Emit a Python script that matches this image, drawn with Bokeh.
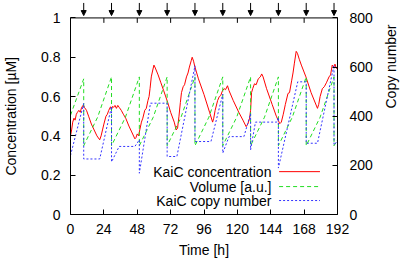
import math
from bokeh.plotting import figure
from bokeh.models import (LinearAxis, Range1d, FixedTicker, NumeralTickFormatter,
                          Arrow, NormalHead, Label, Span)
from bokeh.embed import file_html
from bokeh.resources import INLINE

# ---------------- data ----------------
time_conc = [0, 0.8, 1.6, 2.5, 3.3, 4.2, 5.0, 6.0, 7.0, 8.0, 9.3, 10.0, 11.5, 13, 15, 17, 19, 21,
             22, 23, 24, 25.5, 26.5, 27.5, 28.8, 29.5, 30.3, 31, 32, 33, 34, 35, 36.5, 38, 39.7,
             42, 44, 46.3, 47, 48, 49, 49.8, 51, 52, 53.4, 54.5, 55.7, 56.5, 57.2, 58.1, 59, 60,
             61, 63, 65, 67, 69.9, 72, 74.6, 76, 77, 78, 79, 79.8, 81, 82, 83.4, 84.5, 85.5, 86.9,
             87.5, 88.5, 89.3, 92, 96, 100, 102.2, 103, 104, 105.8, 107, 108, 109.3, 110.5, 111.5,
             112.9, 114, 117, 121, 124, 126.3, 127.5, 128.8, 129.5, 130.2, 131, 132.3, 133.5, 135,
             136.5, 137.5, 138.5, 141, 145, 148, 150.5, 151.6, 153, 154.5, 156.4, 157.5, 159, 160,
             161, 162.3, 163.2, 164.5, 166, 169.3, 173, 177.6, 178.5, 179.5, 181.1, 182.5, 184,
             185.9, 187, 188.2, 189.2, 190.2, 191, 192]
conc = [0.40, 0.43, 0.47, 0.49, 0.48, 0.51, 0.52, 0.53, 0.52, 0.545, 0.557, 0.545, 0.53, 0.50,
        0.46, 0.43, 0.40, 0.38, 0.40, 0.43, 0.46, 0.50, 0.51, 0.53, 0.548, 0.535, 0.55, 0.545,
        0.555, 0.54, 0.555, 0.545, 0.53, 0.51, 0.49, 0.45, 0.42, 0.385, 0.39, 0.41, 0.40, 0.43,
        0.47, 0.49, 0.53, 0.54, 0.58, 0.60, 0.64, 0.70, 0.73, 0.76, 0.745, 0.71, 0.67, 0.63,
        0.57, 0.52, 0.47, 0.43, 0.44, 0.50, 0.57, 0.62, 0.65, 0.66, 0.70, 0.72, 0.75, 0.785,
        0.80, 0.78, 0.755, 0.69, 0.61, 0.52, 0.47, 0.49, 0.53, 0.58, 0.60, 0.605, 0.63, 0.64,
        0.635, 0.655, 0.63, 0.58, 0.52, 0.48, 0.447, 0.46, 0.49, 0.53, 0.62, 0.64, 0.665, 0.66,
        0.69, 0.70, 0.715, 0.70, 0.64, 0.56, 0.50, 0.462, 0.47, 0.51, 0.56, 0.616, 0.62, 0.68,
        0.72, 0.77, 0.83, 0.82, 0.79, 0.76, 0.70, 0.62, 0.54, 0.56, 0.60, 0.64, 0.65, 0.67,
        0.70, 0.71, 0.76, 0.75, 0.765, 0.745, 0.74]

time_vol = [0, 9.5, 9.5, 19.5, 29.5, 29.5, 39.5, 49.5, 49.5, 59.5, 69.5, 69.5, 79.5, 89.5, 89.5,
            99.5, 109.5, 109.5, 119.5, 129.5, 129.5, 139.5, 149.5, 149.5, 159.5, 169.5, 169.5,
            179.5, 189.5, 189.5, 192]
volume = [0.505, 0.69, 0.35, 0.495, 0.70, 0.35, 0.495, 0.70, 0.35, 0.495, 0.70, 0.35, 0.495,
          0.70, 0.35, 0.495, 0.70, 0.35, 0.495, 0.70, 0.35, 0.495, 0.70, 0.35, 0.495, 0.70,
          0.35, 0.495, 0.70, 0.35, 0.38]

time_copy = [0, 9.5, 9.5, 21, 29.5, 29.5, 35, 46.3, 49.5, 49.5, 57.5, 69.5, 69.5, 76.5, 89.5,
             89.5, 101, 109.5, 109.5, 114, 124.7, 129.5, 129.5, 133, 148.3, 149.5, 149.5, 163.4,
             169.5, 169.5, 177.6, 189.5, 189.5, 192]
copy_number = [240, 452, 226, 226, 440, 214, 277, 277, 304, 168, 453, 453, 236, 236, 605, 297,
               297, 490, 250, 317, 317, 410, 263, 376, 376, 395, 189, 540, 540, 290, 290, 608,
               283, 300]

division_times = [9.5, 29.5, 49.5, 69.5, 89.5, 109.5, 129.5, 149.5, 169.5, 189.5]

x_ticks = [0, 24, 48, 72, 96, 120, 144, 168, 192]
y_ticks = [0, 0.2, 0.4, 0.6, 0.8, 1.0]
copy_ticks = [0, 200, 400, 600, 800]

x_title = "Time [h]"
y_title = "Concentration [µM]"
y2_title = "Copy number"
legend_labels = ["KaiC concentration", "Volume [a.u.]", "KaiC copy number"]

FONT = "Liberation Sans"
FS = "14px"
RED, GREEN, BLUE = "#ff0000", "#22dd22", "#3333ff"

Y_TOP = 1.0785          # extra room above the axes box for the division arrows
COPY_SCALE = 800.0
PAD = "\u00a0" * 4      # keeps the rotated titles centred on the 0..1 box

p = figure(width=409, height=260, x_range=Range1d(0, 192), y_range=Range1d(0, Y_TOP),
           output_backend="svg", toolbar_location=None,
           min_border_left=70, min_border_right=68, min_border_top=2, min_border_bottom=45)
p.grid.visible = False
p.outline_line_color = None
p.background_fill_color = "white"
p.border_fill_color = "white"

p.extra_y_ranges = {"copy": Range1d(0, COPY_SCALE * Y_TOP)}

p.line(time_conc, conc, color=RED, line_width=1)
p.line(time_vol, volume, color=GREEN, line_width=1, line_dash="4 3")
p.line(time_copy, copy_number, color=BLUE, line_width=1, line_dash="2 2", y_range_name="copy")

# top edge of the axes box and its inward mirrored ticks
p.add_layout(Span(location=1.0, dimension="width", line_color="black", line_width=1))
p.segment(x0=x_ticks, y0=[1.0] * len(x_ticks), x1=x_ticks, y1=[0.975] * len(x_ticks),
          line_color="black", line_width=1)

# division arrows above the box
for t in division_times:
    p.add_layout(Arrow(x_start=t, y_start=Y_TOP - 0.002, x_end=t, y_end=1.012,
                       line_color="black", line_width=1,
                       end=NormalHead(size=5, fill_color="black", line_color="black",
                                      line_width=1)))


def style(ax):
    ax.axis_line_color = "black"
    ax.major_tick_in = 5
    ax.major_tick_out = 0
    ax.minor_tick_line_color = None
    ax.major_label_text_font = FONT
    ax.major_label_text_font_size = FS
    ax.major_label_text_color = "black"
    ax.axis_label_text_font = FONT
    ax.axis_label_text_font_size = FS
    ax.axis_label_text_font_style = "normal"
    ax.axis_label_text_color = "black"


xa = p.xaxis[0]
style(xa)
xa.ticker = FixedTicker(ticks=x_ticks)
xa.axis_label = x_title
xa.major_label_standoff = 9
xa.axis_label_standoff = 5

ya = p.yaxis[0]
style(ya)
ya.bounds = (0, 1)
ya.ticker = FixedTicker(ticks=y_ticks)
ya.formatter = NumeralTickFormatter(format="0.[0]")
ya.axis_label = y_title + PAD
ya.major_label_standoff = 10
ya.axis_label_standoff = 19

ra = LinearAxis(y_range_name="copy", ticker=FixedTicker(ticks=copy_ticks),
                axis_label=y2_title + PAD)
style(ra)
ra.bounds = (0, COPY_SCALE)
ra.axis_label_orientation = math.pi / 2
ra.major_label_standoff = 12
ra.axis_label_standoff = 15
p.add_layout(ra, "right")

# legend (text on the left, sample line on the right)
leg_y = [0.218, 0.142, 0.071]
leg_colors = [RED, GREEN, BLUE]
leg_dash = ["solid", "4 3", "2 2"]
for lab, yy, c, d in zip(legend_labels, leg_y, leg_colors, leg_dash):
    p.add_layout(Label(x=144.5, y=yy, text=lab, text_align="right", text_baseline="middle",
                       text_font=FONT, text_font_size=FS, text_color="black"))
    p.line([150, 179.4], [yy, yy], color=c, line_width=1, line_dash=d)

open("out.html", "w").write(file_html(p, INLINE))
